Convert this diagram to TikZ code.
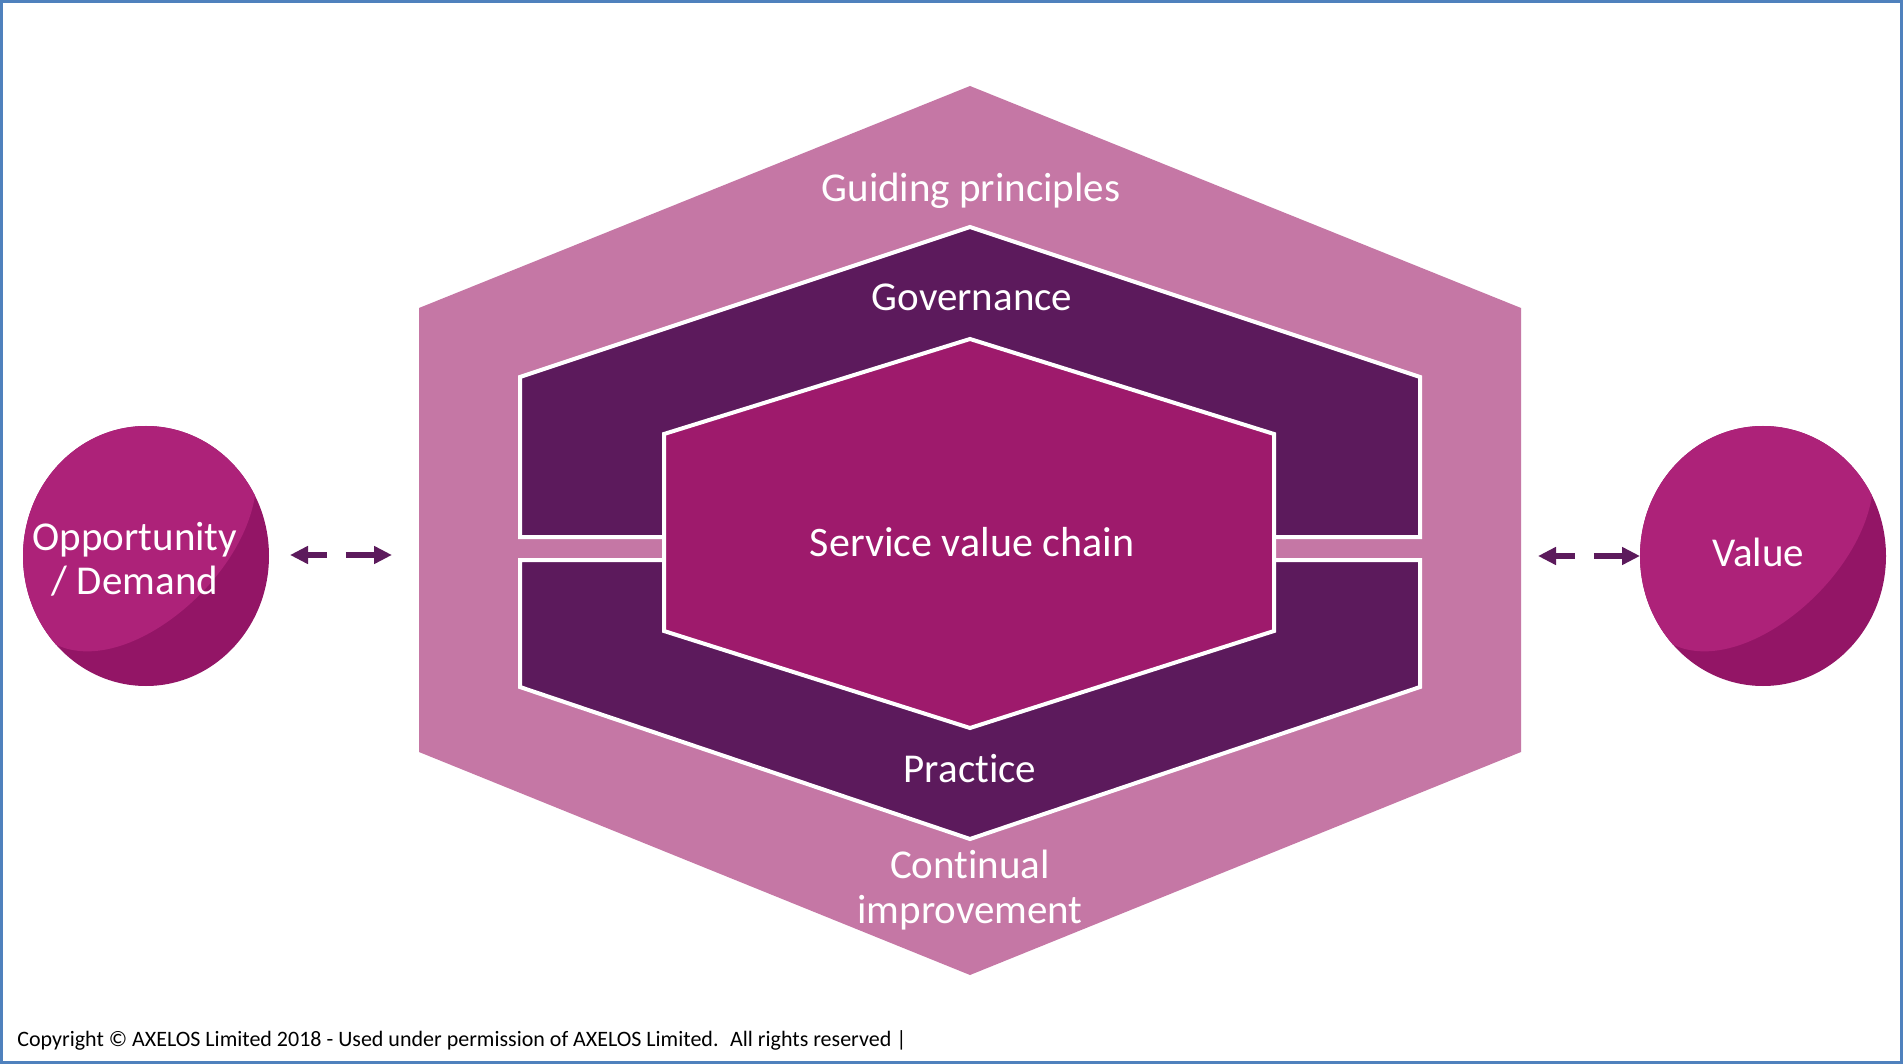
\documentclass[tikz,border=0pt]{standalone}
\usepackage{fontspec}
\setmainfont{Carlito}[Ligatures={NoCommon,NoDiscretionary,NoRare}]
\usetikzlibrary{arrows.meta}
\definecolor{outerpink}{HTML}{C577A5}
\definecolor{darkpurple}{HTML}{5C1A5C}
\definecolor{svcmag}{HTML}{9E1A6C}
\definecolor{balllight}{HTML}{AD2279}
\definecolor{balldark}{HTML}{931566}
\definecolor{frameblue}{HTML}{4F81BD}
\begin{document}
\begin{tikzpicture}[x=0.5pt,y=-0.5pt,
  lbl/.style={text=white,font=\fontsize{20.5}{22.5}\selectfont,anchor=base,align=center,inner sep=0pt},
  band/.style={fill=darkpurple,draw=white,line width=2pt,line join=miter},
  core/.style={fill=svcmag,draw=white,line width=2pt,line join=miter},
  conn/.style={darkpurple,line width=3pt,{Triangle[length=9pt,width=8.5pt]}-{Triangle[length=9pt,width=8.5pt]},dash pattern=on 10pt off 9.5pt on 30pt off 1pt},
  ball/.pic={
    \fill[balldark] (0,0) ellipse [x radius=123, y radius=130];
    \begin{scope}
      \clip (0,0) ellipse [x radius=123, y radius=130];
      \fill[balllight] (110,-85) .. controls (118,10) and (-20,130) .. (-95,86)
        -- (-200,86) -- (-200,-200) -- (200,-200) -- (200,-85) -- cycle;
    \end{scope}
  }]
\useasboundingbox (0,0) rectangle (1903,1064);
\fill[white] (0,0) rectangle (1903,1064);
\draw[frameblue,line width=1.5pt] (1.5,1.5) rectangle (1901.5,1062.5);

% outer hexagon
\fill[outerpink] (970,86) -- (1521,308) -- (1521,752) -- (970,975) -- (419,752) -- (419,308) -- cycle;
% governance and practice
\draw[band] (520,377) -- (970,227) -- (1420,377) -- (1420,537) -- (520,537) -- cycle;
\draw[band] (520,560) -- (1420,560) -- (1420,687) -- (970,839) -- (520,687) -- cycle;
% service value chain
\draw[core] (970,339) -- (1274,434) -- (1274,631) -- (970,728) -- (664,631) -- (664,434) -- cycle;

\node[lbl] (guide) at (971,202) {Guiding principles};
\node[lbl] (gov) at (972,311) {Governance};
\node[lbl,font=\fontsize{21}{23}\selectfont] (svc) at (972,556) {Service value chain};
\node[lbl] (prac) at (970,782) {Practice};
\node[lbl] (ci) at (970,923) {Continual\\improvement};

% balls
\coordinate (oppc) at (146,556);
\coordinate (valc) at (1763,556);
\pic at (oppc) {ball};
\pic at (valc) {ball};
\node[lbl] (opp) at (135,595) {Opportunity\\/ Demand};
\node[lbl] (val) at (1758,567) {Value};

% arrows
\coordinate (la) at (290,555);
\coordinate (lb) at (392,555);
\coordinate (ra) at (1538,556);
\coordinate (rb) at (1640,556);
\draw[conn] (la) -- (lb);
\draw[conn] (ra) -- (rb);

\node[anchor=base west,inner sep=0pt,font=\fontsize{11}{13}\selectfont] (copy) at (17,1046)
  {Copyright © AXELOS Limited 2018 - Used under permission of AXELOS Limited.~ All rights reserved |};
\end{tikzpicture}
\end{document}
